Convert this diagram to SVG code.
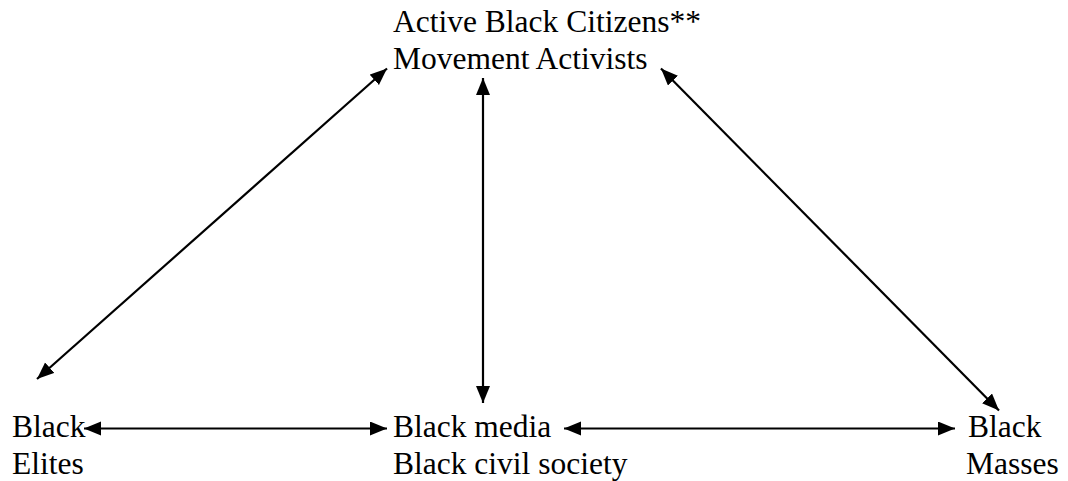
<svg xmlns="http://www.w3.org/2000/svg" width="1068" height="481" viewBox="0 0 1068 481">
<style>
text{font-family:"Liberation Serif","Times New Roman",serif;font-size:31.5px;fill:#000}
.c{stroke:#000;stroke-width:2.2;fill:none;marker-start:url(#ah);marker-end:url(#ah)}
</style>
<defs>
<marker id="ah" markerUnits="userSpaceOnUse" markerWidth="18" markerHeight="15" refX="17" refY="7" orient="auto-start-reverse">
<path d="M0,0 L17,7 L0,14 z" fill="#000"/>
</marker>
</defs>
<rect width="1068" height="481" fill="#fff"/>
<g id="connectors">
<line class="c" x1="37" y1="379" x2="387" y2="68.5"/>
<line class="c" x1="483" y1="403" x2="483" y2="78"/>
<line class="c" x1="999" y1="410.5" x2="661" y2="68.5"/>
<line class="c" x1="84" y1="428.5" x2="387" y2="428.5"/>
<line class="c" x1="564" y1="428.5" x2="955" y2="428.5"/>
</g>
<g id="activists"><text x="393" y="32">Active Black Citizens**</text><text x="393" y="69">Movement Activists</text></g>
<g id="elites"><text x="12" y="436.5">Black</text><text x="12" y="474">Elites</text></g>
<g id="media"><text x="393" y="436.5">Black media</text><text x="393" y="474">Black civil society</text></g>
<g id="masses"><text x="968" y="436.5">Black</text><text x="966" y="474">Masses</text></g>
</svg>
